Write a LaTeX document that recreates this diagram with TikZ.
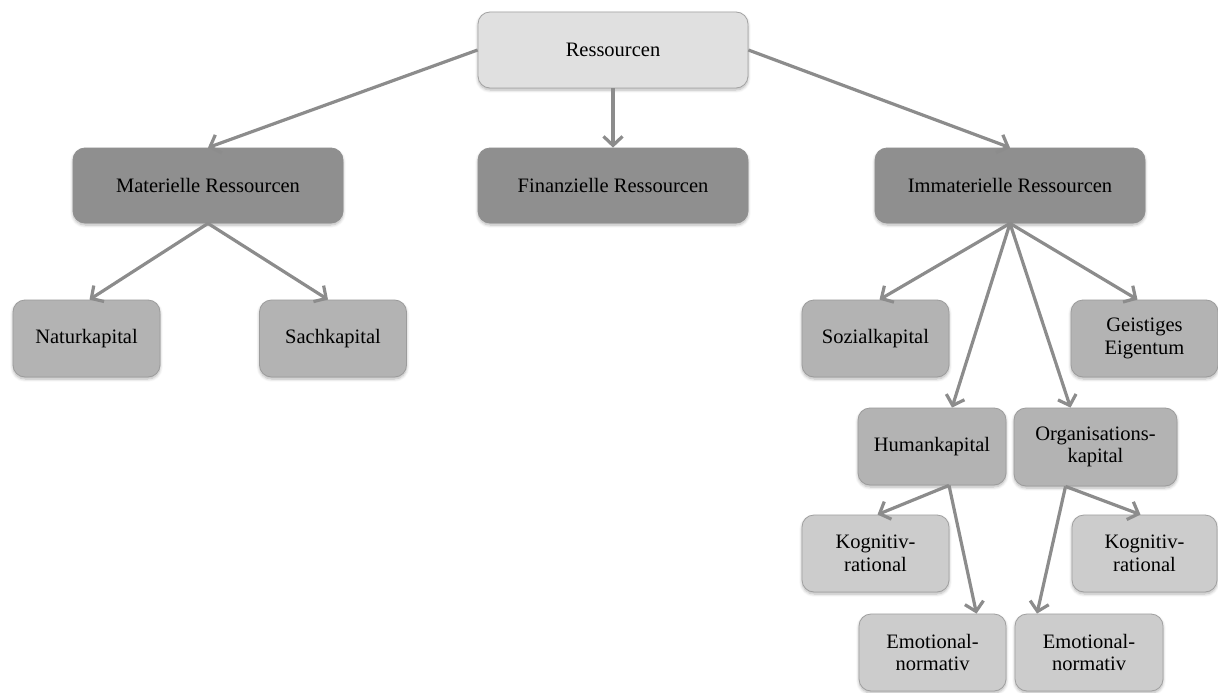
\documentclass[tikz,border=0pt]{standalone}
\usepackage{fontspec}
\setmainfont{Liberation Serif}
\usetikzlibrary{arrows.meta,calc,shadows.blur}

\definecolor{topfill}{HTML}{E0E0E0}
\definecolor{topline}{HTML}{A3A3A3}
\definecolor{midfill}{HTML}{8F8F8F}
\definecolor{subfill}{HTML}{B3B3B3}
\definecolor{subline}{HTML}{9C9C9C}
\definecolor{leaffill}{HTML}{CCCCCC}
\definecolor{leafline}{HTML}{A0A0A0}
\definecolor{linkgray}{HTML}{8C8C8C}

\tikzset{
  box/.style={rectangle, rounded corners=12pt, align=center, inner sep=2pt,
    font=\fontsize{20.5}{22.5}\selectfont, line width=0.8pt,
    blur shadow={shadow xshift=0pt, shadow yshift=-2pt, shadow blur radius=3pt,
      shadow blur steps=6, shadow opacity=30}},
  topbox/.style={box, fill=topfill, draw=topline, minimum width=270pt, minimum height=76pt},
  midbox/.style={box, fill=midfill, draw=midfill, minimum width=270pt, minimum height=75pt},
  subbox/.style={box, fill=subfill, draw=subline, minimum width=147pt, minimum height=77pt},
  leafbox/.style={box, fill=leaffill, draw=leafline, minimum width=147pt, minimum height=77pt},
  link/.style={draw=linkgray, line width=3.2pt,
    -{Straight Barb[length=9pt,width=19pt]}}
}

\begin{document}
\begin{tikzpicture}[x=1pt, y=-1pt]
\useasboundingbox (0,0) rectangle (1218,693);

% top level
\node[topbox] (res) at (613,50) {Ressourcen};

% second level
\node[midbox] (mat) at (208,185.5) {Materielle Ressourcen};
\node[midbox] (fin) at (613,185.5) {Finanzielle Ressourcen};
\node[midbox] (imm) at (1010,185.5) {Immaterielle Ressourcen};

% material resources
\node[subbox] (nat) at (86.5,338.5) {Naturkapital};
\node[subbox] (sach) at (333,338.5) {Sachkapital};

% immaterial resources
\node[subbox] (soz) at (875.5,338.5) {Sozialkapital};
\node[subbox] (geist) at (1144.5,338.5) {Geistiges\\Eigentum};
\node[subbox, minimum width=148pt] (hum) at (932,446.5) {Humankapital};
\node[subbox, minimum width=163pt, minimum height=78pt] (org) at (1095.5,447) {Organisations-\\kapital};

% leaves
\node[leafbox] (kogL) at (875.5,553.5) {Kognitiv-\\rational};
\node[leafbox, minimum width=145pt] (kogR) at (1144.5,553.5) {Kognitiv-\\rational};
\node[leafbox] (emoL) at (932.5,652.5) {Emotional-\\normativ};
\node[leafbox, minimum width=148pt] (emoR) at (1089,652.5) {Emotional-\\normativ};

% connectors
\draw[link] (res.west) -- (mat.north);
\draw[link] (res.south) -- (fin.north);
\draw[link] (res.east) -- (imm.north);

\draw[link] (mat.south) -- ($(nat.north)+(3,0)$);
\draw[link] (mat.south) -- ($(sach.north)+(-5,0)$);

\draw[link] (imm.south) -- ($(soz.north)+(4,0)$);
\draw[link] (imm.south) -- ($(geist.north)+(-7,0)$);
\draw[link] (imm.south) -- ($(hum.north)+(20,0)$);
\draw[link] (imm.south) -- ($(org.north)+(-25,0)$);

\coordinate (humfoot) at ($(hum.south)+(17,0)$);
\coordinate (orgfoot) at ($(org.south)+(-30,0)$);
\draw[link] (humfoot) -- ($(kogL.north)+(2,0)$);
\draw[link] (humfoot) -- ($(emoL.north)+(44,0)$);
\draw[link] (orgfoot) -- ($(kogR.north)+(-4,0)$);
\draw[link] (orgfoot) -- ($(emoR.north)+(-52,0)$);
\end{tikzpicture}
\end{document}
